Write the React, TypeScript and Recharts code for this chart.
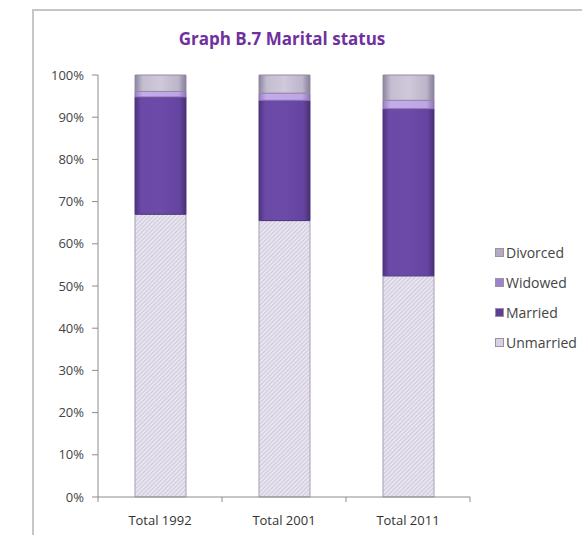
import React from 'react';
import { BarChart, Bar, XAxis, YAxis } from 'recharts';

const categories = ['Total 1992', 'Total 2001', 'Total 2011'];
const unmarried = [67.0, 65.5, 52.4];
const married = [27.8, 28.5, 39.6];
const widowed = [1.3, 1.7, 2.0];
const divorced = [3.9, 4.3, 6.0];
const yTicks = [0, 10, 20, 30, 40, 50, 60, 70, 80, 90, 100];
const boundaryTicks = [0, 1, 2, 3];

const data = categories.map((name, i) => ({
  name,
  unmarried: unmarried[i],
  married: married[i],
  widowed: widowed[i],
  divorced: divorced[i],
  pos: i + 0.5,
}));

const series = [
  { key: 'unmarried', label: 'Unmarried', fill: 'url(#hatch)', stroke: '#a69fb4', swatch: '#d8d3e2' },
  { key: 'married', label: 'Married', fill: 'url(#gMarried)', stroke: '#4f347f', swatch: '#5e3f96' },
  { key: 'widowed', label: 'Widowed', fill: 'url(#gWidowed)', stroke: '#8b72b3', swatch: '#9d84c6' },
  { key: 'divorced', label: 'Divorced', fill: 'url(#gDivorced)', stroke: '#938aa3', swatch: '#b3abc2' },
];

const FONT = '"Open Sans", Lato, sans-serif';

export default function App() {
  return (
    <div style={{ position: 'absolute', left: 0, top: 0, width: 582, height: 535, background: '#fff', overflow: 'hidden', fontFamily: FONT }}>
      <div style={{ position: 'absolute', left: 32, top: 9, width: 600, height: 600, borderLeft: '2px solid #c6c6c6', borderTop: '2px solid #c6c6c6' }} />
      <div style={{ position: 'absolute', left: 0, width: 564, top: 27, textAlign: 'center', fontWeight: 700, fontSize: 17, color: '#7030a0' }}>
        Graph B.7 Marital status
      </div>
      <div style={{ position: 'absolute', left: 0, top: 0 }}>
        <BarChart width={582} height={535} data={data} margin={{ top: 75, right: 112, bottom: 8, left: 0 }}>
          <defs>
            <pattern id="hatch" width="3" height="3" patternUnits="userSpaceOnUse" patternTransform="rotate(45)">
              <rect width="3" height="3" fill="#e9e5f0" />
              <line x1="0" y1="0" x2="0" y2="3" stroke="#bdb4cc" strokeWidth="1.2" />
            </pattern>
            <linearGradient id="gMarried" x1="0" y1="0" x2="1" y2="0">
              <stop offset="0" stopColor="#4d3280" />
              <stop offset="0.12" stopColor="#6a4aa6" />
              <stop offset="0.5" stopColor="#6b4ba7" />
              <stop offset="0.88" stopColor="#6444a0" />
              <stop offset="1" stopColor="#47306f" />
            </linearGradient>
            <linearGradient id="gWidowed" x1="0" y1="0" x2="1" y2="0">
              <stop offset="0" stopColor="#9a80c4" />
              <stop offset="0.15" stopColor="#c3acec" />
              <stop offset="0.85" stopColor="#bea6e6" />
              <stop offset="1" stopColor="#8f76b8" />
            </linearGradient>
            <linearGradient id="gDivorced" x1="0" y1="0" x2="1" y2="0">
              <stop offset="0" stopColor="#8d84a0" />
              <stop offset="0.15" stopColor="#c4bdd0" />
              <stop offset="0.5" stopColor="#cfc9da" />
              <stop offset="0.85" stopColor="#bdb5ca" />
              <stop offset="1" stopColor="#877e98" />
            </linearGradient>
          </defs>
          <XAxis
            xAxisId={0}
            type="number"
            dataKey="pos"
            domain={[0, 3]}
            ticks={boundaryTicks}
            interval={0}
            height={1}
            axisLine={{ stroke: '#8c8c8c' }}
            tickLine={{ stroke: '#8c8c8c' }}
            tickSize={5}
            tickFormatter={() => ''}
          />
          <XAxis
            xAxisId={1}
            dataKey="name"
            height={29}
            axisLine={false}
            tickLine={false}
            tickSize={0}
            tickMargin={18}
            tick={{ fill: '#333', fontSize: 13, fontFamily: FONT }}
          />
          <YAxis
            width={98}
            domain={[0, 100]}
            ticks={yTicks}
            interval={0}
            tickFormatter={(v: number) => `${v}%`}
            axisLine={{ stroke: '#8c8c8c' }}
            tickLine={{ stroke: '#8c8c8c' }}
            tickSize={6}
            tickMargin={8}
            tick={{ fill: '#444', fontSize: 13, fontFamily: FONT }}
          />
          {series.map((s) => (
            <Bar
              key={s.key}
              xAxisId={1}
              dataKey={s.key}
              stackId="a"
              fill={s.fill}
              stroke={s.stroke}
              strokeWidth={1}
              barSize={51}
              isAnimationActive={false}
            />
          ))}
        </BarChart>
      </div>
      <div style={{ position: 'absolute', left: 495, top: 237, fontSize: 14, color: '#444', whiteSpace: 'nowrap' }}>
        {[...series].reverse().map((s) => (
          <div key={s.key} style={{ display: 'flex', alignItems: 'center', height: 30 }}>
            <span style={{ display: 'inline-block', width: 7, height: 7, background: s.swatch, border: '1px solid #9a92aa', marginRight: 2 }} />
            <span>{s.label}</span>
          </div>
        ))}
      </div>
    </div>
  );
}
